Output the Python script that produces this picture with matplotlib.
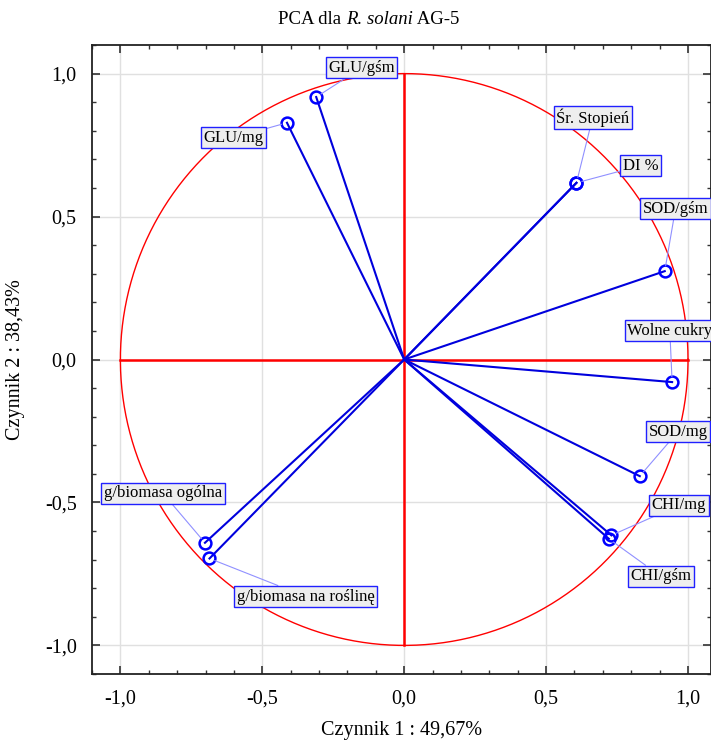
import matplotlib
matplotlib.use("Agg")
import matplotlib.pyplot as plt
import numpy as np
from matplotlib.ticker import MultipleLocator, FuncFormatter

plt.rcParams['font.family'] = ['Liberation Serif', 'DejaVu Serif']

# loadings (factor 1, factor 2)
names = ["GLU/gśm", "GLU/mg", "Śr. Stopień", "DI %", "SOD/gśm", "Wolne cukry",
         "SOD/mg", "CHI/mg", "CHI/gśm", "g/biomasa ogólna", "g/biomasa na roślinę"]
f1 = [-0.310, -0.413, 0.607, 0.607, 0.918, 0.944, 0.830, 0.730, 0.721, -0.702, -0.686]
f2 = [0.918, 0.828, 0.618, 0.618, 0.309, -0.079, -0.408, -0.615, -0.627, -0.641, -0.696]

# label box positions
lab_x = [-0.15, -0.60, 0.664, 0.833, 0.956, 0.786, 0.965, 0.968, 0.904, -0.85, -0.347]
lab_y = [1.02, 0.776, 0.846, 0.678, 0.528, 0.10, -0.252, -0.51, -0.758, -0.468, -0.829]
lab_ha = ["center"] * 5 + ["left"] + ["center"] * 5

fig = plt.figure(figsize=(7.11, 7.45), dpi=100)
ax = fig.add_axes([92 / 711, 1 - 674 / 745, 1 - 92 / 711, (674 - 45) / 745])

ax.grid(True, color="#e0e0e0", linewidth=1, zorder=0)
ax.set_axisbelow(True)

# unit circle and axes cross
t = np.linspace(0, 2 * np.pi, 400)
ax.plot(np.cos(t), np.sin(t), color="red", lw=1, zorder=2)
ax.plot([-1, 1], [0, 0], color="red", lw=1.8, zorder=2)
ax.plot([0, 0], [-1, 1], color="red", lw=1.8, zorder=2)

for x, y in zip(f1, f2):
    ax.plot([0, x], [0, y], color="#0000dd", lw=1.5, zorder=3)
ax.plot(f1, f2, "o", mfc="none", mec="#0000ff", mew=1.8, ms=8.5, zorder=4)

for n, x, y, lx, ly, ha in zip(names, f1, f2, lab_x, lab_y, lab_ha):
    ax.annotate(n, xy=(x, y), xytext=(lx, ly), ha=ha, va="center", fontsize=12,
                bbox=dict(boxstyle="square,pad=0.15", fc="#eeeeee", ec="#2020ff", lw=1),
                arrowprops=dict(arrowstyle="-", color="#9090ff", lw=0.8,
                                shrinkA=0, shrinkB=4),
                zorder=5, annotation_clip=False)

ax.set_xlim(-1.1, 1.081)
ax.set_ylim(-1.1, 1.1)
ax.xaxis.set_major_locator(MultipleLocator(0.5))
ax.yaxis.set_major_locator(MultipleLocator(0.5))
ax.xaxis.set_minor_locator(MultipleLocator(0.1))
ax.yaxis.set_minor_locator(MultipleLocator(0.1))
fmt = FuncFormatter(lambda v, p: ("%.1f" % v).replace(".", ",").replace("-0,0", "0,0"))
ax.xaxis.set_major_formatter(fmt)
ax.yaxis.set_major_formatter(fmt)
ax.tick_params(which="both", direction="in", top=True, right=True, labelsize=14.5,
               color="#333333")
ax.tick_params(which="major", length=6, width=1.2, pad=11)
ax.tick_params(which="minor", length=3, width=1)
for s in ax.spines.values():
    s.set_color("#222222")
    s.set_linewidth(1.3)

ax.set_xlabel("Czynnik 1 : 49,67%", fontsize=14.5, labelpad=9)
ax.set_ylabel("Czynnik 2 : 38,43%", fontsize=14.5, labelpad=14)

# title in pieces so that only the species name is italic
ty = 1 - 19 / 745
x0 = 278 / 711
r = fig.canvas.get_renderer()
for txt, style in [("PCA dla ", "normal"), ("R. solani", "italic"), (" AG-5", "normal")]:
    tt = fig.text(x0, ty, txt, ha="left", va="center", fontsize=13.5, fontstyle=style)
    x0 = tt.get_window_extent(r).x1 / fig.bbox.width

fig.savefig("out.png", dpi=100)
